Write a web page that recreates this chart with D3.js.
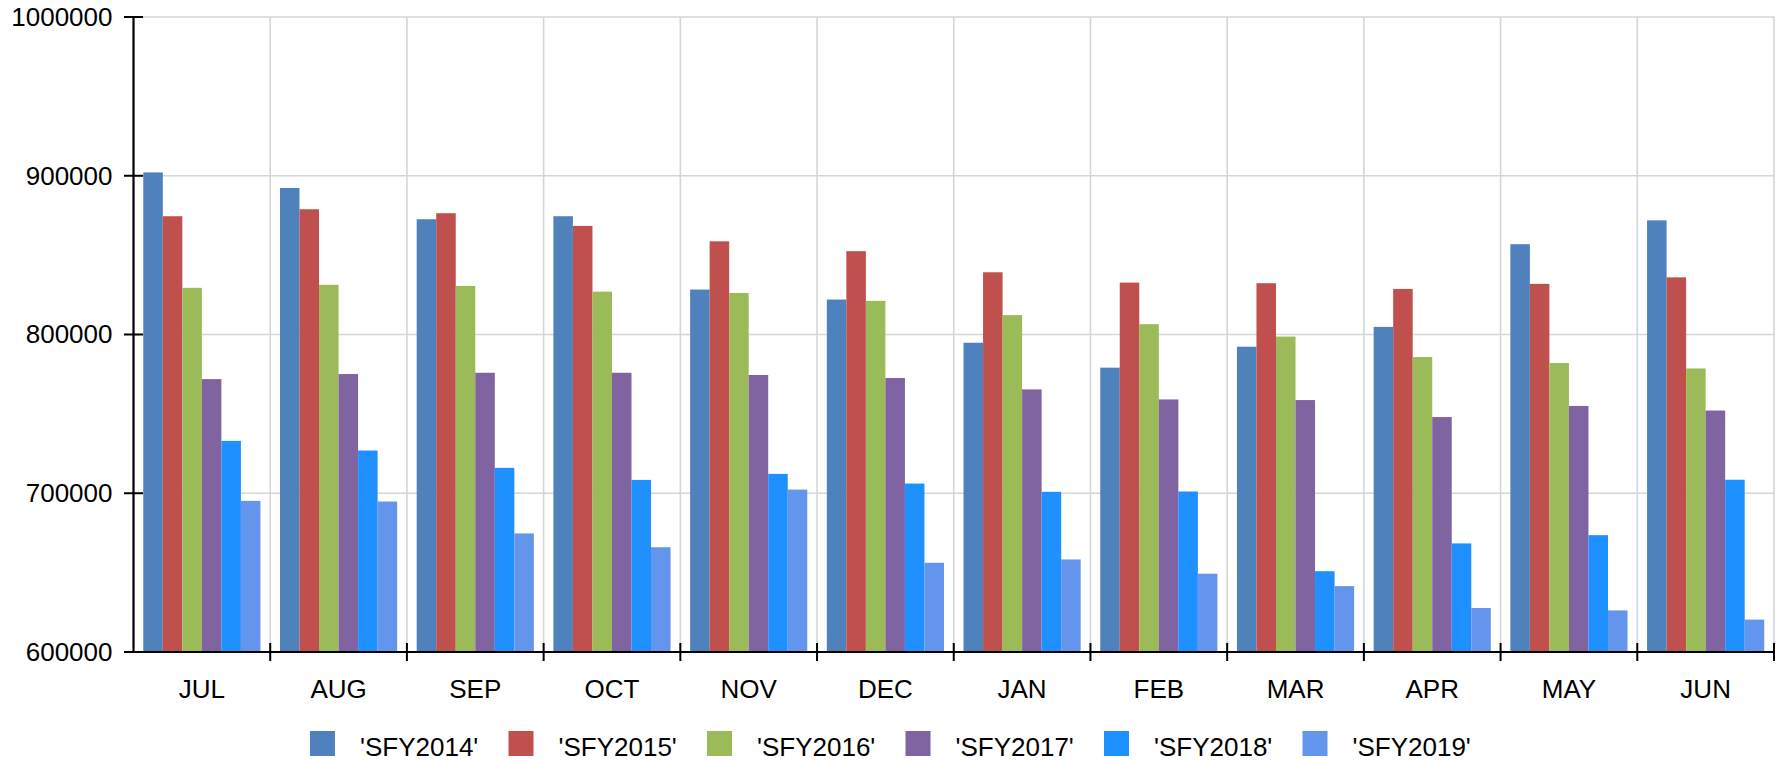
<!DOCTYPE html>
<html>
<head>
<meta charset="utf-8">
<script src="https://cdn.jsdelivr.net/npm/d3@7"></script>
<style>
  html, body { margin: 0; padding: 0; background: #fff; }
  svg { display: block; font-family: "Liberation Sans", Arial, sans-serif; }
</style>
</head>
<body>
<div id="chart"></div>
<script>
const months = ['JUL', 'AUG', 'SEP', 'OCT', 'NOV', 'DEC', 'JAN', 'FEB', 'MAR', 'APR', 'MAY', 'JUN'];
const seriesNames = ["'SFY2014'", "'SFY2015'", "'SFY2016'", "'SFY2017'", "'SFY2018'", "'SFY2019'"];
const seriesColors = ['#4F81BD', '#C0504D', '#9BBB59', '#8064A2', '#1E90FF', '#6495ED'];

const sfy2014 = [902100, 892300, 872600, 874500, 828300, 822000, 794800, 779100, 792300, 804800, 856900, 871900];
const sfy2015 = [874500, 878900, 876400, 868400, 858700, 852500, 839200, 832700, 832300, 828700, 831900, 836000];
const sfy2016 = [829400, 831300, 830600, 827000, 826200, 821200, 812200, 806500, 798700, 785800, 782000, 778600];
const sfy2017 = [771900, 775100, 775900, 775900, 774500, 772600, 765400, 759100, 758700, 748000, 755000, 752100];
const sfy2018 = [733000, 726900, 716000, 708400, 712200, 706100, 700900, 701100, 650900, 668400, 673600, 708500];
const sfy2019 = [695200, 694800, 674700, 666000, 702300, 656200, 658300, 649300, 641500, 627700, 626200, 620400];
const seriesValues = [sfy2014, sfy2015, sfy2016, sfy2017, sfy2018, sfy2019];

const yTicks = [600000, 700000, 800000, 900000, 1000000];

const width = 1780, height = 761;
const margin = { top: 17, right: 6, bottom: 109, left: 133.5 };
const innerW = width - margin.left - margin.right;
const innerH = height - margin.top - margin.bottom;

const svg = d3.select('#chart')
  .append('svg')
  .attr('width', width)
  .attr('height', height);

const g = svg.append('g')
  .attr('transform', `translate(${margin.left},${margin.top})`);

const x0 = d3.scaleBand()
  .domain(months)
  .range([0, innerW])
  .paddingInner(0.143)
  .paddingOuter(0.0715);

const x1 = d3.scaleBand()
  .domain(d3.range(seriesNames.length))
  .range([0, x0.bandwidth()]);

const y = d3.scaleLinear()
  .domain([600000, 1000000])
  .range([innerH, 0]);

const step = x0.step();

// grid
g.append('g')
  .selectAll('line.h')
  .data(yTicks.slice(1))
  .enter()
  .append('line')
  .attr('x1', 0)
  .attr('x2', innerW)
  .attr('y1', d => y(d))
  .attr('y2', d => y(d))
  .style('stroke', '#d6d6d6')
  .style('stroke-width', 1.6);

g.append('g')
  .selectAll('line.v')
  .data(d3.range(1, months.length + 1))
  .enter()
  .append('line')
  .attr('x1', i => i * step)
  .attr('x2', i => i * step)
  .attr('y1', 0)
  .attr('y2', innerH)
  .style('stroke', '#d6d6d6')
  .style('stroke-width', 1.6);

// bars
const groups = g.append('g')
  .selectAll('g')
  .data(months)
  .enter()
  .append('g')
  .attr('transform', d => `translate(${x0(d)},0)`);

groups.selectAll('rect')
  .data((m, mi) => seriesValues.map((vals, si) => ({ si, v: vals[mi] })))
  .enter()
  .append('rect')
  .attr('x', d => x1(d.si))
  .attr('width', x1.bandwidth())
  .attr('y', d => y(d.v))
  .attr('height', d => innerH - y(d.v))
  .style('fill', d => seriesColors[d.si]);

// y axis
const yAxis = g.append('g')
  .call(d3.axisLeft(y).tickValues(yTicks).tickSize(0).tickPadding(21).tickFormat(d3.format('d')));
yAxis.select('.domain').remove();
yAxis.selectAll('text')
  .style('font-size', '26px')
  .style('fill', '#000')
  .style('font-family', '"Liberation Sans", Arial, sans-serif');

g.append('g')
  .selectAll('line')
  .data(yTicks)
  .enter()
  .append('line')
  .attr('x1', -9.5)
  .attr('x2', 9.5)
  .attr('y1', d => y(d))
  .attr('y2', d => y(d))
  .style('stroke', '#000')
  .style('stroke-width', 2);

g.append('line')
  .attr('x1', 0).attr('x2', 0)
  .attr('y1', 0).attr('y2', innerH)
  .style('stroke', '#000')
  .style('stroke-width', 2.2);

// x axis
g.append('line')
  .attr('x1', 0).attr('x2', innerW)
  .attr('y1', innerH).attr('y2', innerH)
  .style('stroke', '#000')
  .style('stroke-width', 2.2);

g.append('g')
  .selectAll('line')
  .data(d3.range(1, months.length + 1))
  .enter()
  .append('line')
  .attr('x1', i => i * step)
  .attr('x2', i => i * step)
  .attr('y1', innerH - 9)
  .attr('y2', innerH + 9)
  .style('stroke', '#000')
  .style('stroke-width', 2);

g.append('g')
  .selectAll('text')
  .data(months)
  .enter()
  .append('text')
  .attr('x', d => x0(d) + x0.bandwidth() / 2)
  .attr('y', innerH + 46)
  .attr('text-anchor', 'middle')
  .style('font-size', '26px')
  .style('fill', '#000')
  .text(d => d);

// legend
const legend = svg.append('g')
  .attr('transform', 'translate(310,731)');

const item = legend.selectAll('g')
  .data(seriesNames)
  .enter()
  .append('g')
  .attr('transform', (d, i) => `translate(${i * 198.5},0)`);

item.append('rect')
  .attr('width', 25)
  .attr('height', 25)
  .style('fill', (d, i) => seriesColors[i]);

item.append('text')
  .attr('x', 50)
  .attr('y', 24.5)
  .style('font-size', '26px')
  .style('fill', '#000')
  .text(d => d);
</script>
</body>
</html>
